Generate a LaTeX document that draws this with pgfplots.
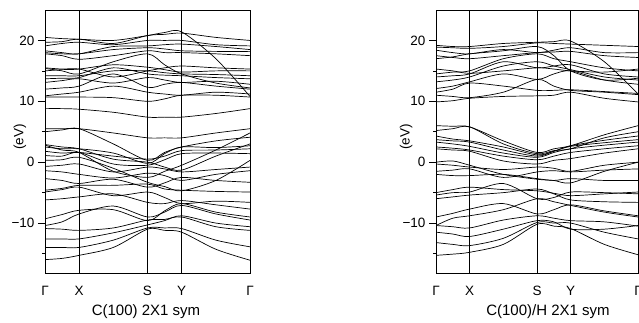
\documentclass[border=0pt]{standalone}
\usepackage{fontspec}
\setmainfont{Liberation Sans}
\usepackage{pgfplots}
\pgfplotsset{compat=1.18}
\newcommand{\band}[9]{\addplot[black, line width=0.7pt, smooth] coordinates {(0,#1)(0.5,#2)(1,#3)(2,#4)(3,#5)(3.5,#6)(4,#7)(5,#8)(6,#9)};}
\pgfplotsset{bandaxis/.style={
  scale only axis, height=263pt,
  xmin=0, xmax=6, ymin=-18.2, ymax=25,
  xtick={0,1,3,4,6}, xticklabels={Γ,X,S,Y,Γ},
  xmajorgrids, major grid style={black, line width=0.8pt},
  xtick style={draw=none},
  ytick={-10,0,10,20}, yticklabels={−10,0,10,20},
  minor ytick={-15,-5,5,15},
  ytick pos=left, tick align=outside,
  major tick length=7pt, minor tick length=3pt,
  every tick/.style={black, line width=0.7pt},
  axis line style={line width=0.8pt},
  ticklabel style={font=\fontsize{13.5}{13.5}\selectfont},
  xticklabel style={yshift=-3pt},
  clip=true,
}}
\begin{document}
\begin{tikzpicture}
\useasboundingbox (0,0) rectangle (639pt,323pt);
% Left panel: C(100) 2X1 sym
\begin{axis}[bandaxis, width=205pt, at={(45pt,50pt)}, anchor=south west]
% valence
\band{-16.0}{-15.8}{-15.3}{-14.0}{-11.0}{-11.2}{-11.5}{-14.3}{-16.1}
\band{-14.0}{-14.0}{-14.0}{-12.8}{-10.8}{-10.8}{-10.9}{-12.8}{-13.9}
\band{-12.6}{-12.6}{-12.6}{-11.6}{-10.3}{-9.6}{-8.8}{-10.0}{-10.6}
\band{-10.9}{-11.0}{-11.2}{-10.8}{-9.5}{-9.4}{-9.0}{-10.6}{-11.2}
\band{-10.4}{-9.8}{-8.5}{-7.2}{-9.0}{-8.2}{-7.1}{-8.5}{-9.5}
\band{-9.3}{-8.6}{-7.9}{-7.8}{-9.6}{-8.0}{-6.8}{-8.2}{-9.0}
\band{-6.2}{-6.0}{-5.7}{-5.2}{-6.6}{-6.8}{-6.3}{-7.0}{-7.7}
\band{-4.9}{-4.5}{-4.1}{-5.5}{-4.9}{-5.8}{-6.8}{-6.4}{-6.6}
\band{-4.6}{-4.3}{-3.8}{-3.8}{-3.6}{-4.4}{-4.6}{-4.8}{-4.9}
\band{-2.7}{-3.0}{-3.5}{-2.8}{-4.1}{-3.4}{-2.5}{-3.0}{-3.3}
\band{-1.4}{-1.6}{-2.0}{-2.6}{-1.8}{-2.2}{-3.0}{-2.0}{-1.4}
\band{-0.7}{-0.5}{-0.3}{-1.6}{-0.8}{-1.1}{-1.6}{-1.2}{-0.8}
\band{0.3}{0.4}{0.8}{-1.0}{-3.3}{-4.0}{-4.7}{-3.0}{0.3}
\band{1.1}{1.0}{1.6}{-0.3}{-0.5}{0.4}{1.4}{1.5}{1.4}
\band{1.8}{1.5}{1.6}{1.0}{0.5}{1.0}{1.9}{2.0}{2.2}
\band{2.5}{2.2}{2.2}{1.5}{-0.2}{1.4}{2.5}{2.4}{2.7}
\band{2.9}{2.5}{2.2}{0.5}{0.0}{-0.8}{-1.3}{1.0}{3.0}
\band{5.0}{5.3}{5.5}{3.0}{0.3}{1.6}{2.5}{3.5}{4.1}
\band{5.5}{5.5}{5.5}{4.8}{4.0}{4.0}{4.0}{4.8}{5.5}
\band{2.8}{2.0}{1.6}{-1.5}{-2.5}{-1.5}{-0.5}{2.0}{4.8}
% conduction
\band{8.8}{8.8}{8.7}{8.2}{7.4}{7.4}{7.4}{8.0}{8.8}
\band{10.7}{10.7}{10.7}{10.6}{10.0}{10.4}{11.0}{11.0}{10.7}
\band{10.9}{11.2}{11.5}{12.5}{11.5}{11.2}{11.0}{11.5}{11.2}
\band{12.0}{12.2}{12.5}{14.5}{12.3}{12.8}{13.1}{12.5}{12.0}
\band{13.1}{13.4}{13.7}{13.0}{13.9}{13.5}{13.1}{13.3}{12.8}
\band{13.7}{13.8}{13.9}{15.5}{14.5}{14.3}{14.2}{13.9}{13.7}
\band{14.2}{14.2}{14.2}{15.0}{15.0}{14.7}{14.5}{14.4}{14.2}
\band{15.0}{15.2}{15.3}{16.0}{15.6}{15.2}{14.8}{15.0}{15.0}
\band{15.4}{15.0}{14.5}{16.5}{17.8}{16.0}{14.5}{13.0}{12.2}
\band{17.8}{17.5}{16.9}{17.5}{18.3}{18.0}{18.0}{17.8}{17.5}
\band{18.0}{17.8}{17.8}{18.5}{18.8}{18.6}{18.3}{18.2}{18.2}
\band{18.3}{18.0}{17.8}{19.0}{19.1}{19.3}{19.4}{19.0}{18.5}
\band{19.1}{19.5}{19.7}{19.3}{20.0}{20.0}{20.0}{19.3}{19.1}
\band{19.7}{19.8}{20.2}{19.5}{20.8}{21.0}{21.2}{20.5}{20.0}
\band{20.5}{20.3}{20.2}{20.0}{20.8}{21.3}{21.4}{17.0}{10.8}
\band{15.5}{15.3}{15.3}{14.0}{15.0}{15.5}{15.8}{15.5}{15.3}
\end{axis}
% Right panel: C(100)/H 2X1 sym
\begin{axis}[bandaxis, width=202pt, at={(436pt,50pt)}, anchor=south west]
% valence
\band{-15.3}{-15.1}{-14.8}{-13.5}{-10.2}{-10.5}{-10.9}{-13.5}{-15.2}
\band{-13.2}{-13.5}{-13.7}{-12.5}{-9.9}{-10.0}{-10.0}{-11.5}{-12.6}
\band{-11.5}{-11.8}{-12.2}{-11.0}{-9.6}{-9.8}{-11.0}{-11.0}{-10.4}
\band{-10.4}{-10.6}{-10.8}{-9.5}{-8.8}{-9.2}{-9.6}{-9.8}{-10.5}
\band{-10.4}{-9.2}{-8.8}{-7.8}{-6.0}{-6.5}{-7.1}{-8.2}{-9.0}
\band{-9.0}{-8.4}{-7.7}{-6.8}{-8.5}{-7.8}{-7.0}{-8.0}{-8.8}
\band{-6.0}{-5.7}{-5.4}{-5.0}{-4.4}{-5.2}{-6.2}{-6.5}{-6.6}
\band{-5.0}{-4.5}{-4.1}{-4.5}{-4.7}{-5.1}{-5.5}{-5.2}{-4.9}
\band{-5.4}{-5.0}{-4.9}{-3.5}{-6.0}{-5.8}{-4.9}{-5.0}{-5.2}
\band{-2.0}{-2.2}{-2.2}{-2.0}{-2.7}{-3.0}{-2.7}{-3.0}{-3.0}
\band{-1.5}{-1.3}{-1.1}{-2.5}{-1.6}{-1.4}{-1.6}{-1.3}{-1.1}
\band{-0.3}{-0.5}{-0.8}{-1.2}{-0.8}{-1.0}{-1.5}{-0.5}{0.0}
\band{0.0}{0.2}{-0.5}{-2.0}{-2.8}{-3.0}{-3.4}{-1.5}{0.0}
\band{2.2}{2.0}{1.8}{0.2}{-0.3}{0.3}{0.6}{1.5}{2.2}
\band{2.5}{2.3}{2.0}{1.0}{0.4}{1.0}{1.6}{2.2}{2.7}
\band{3.3}{3.0}{2.6}{1.5}{0.8}{1.6}{2.2}{2.8}{3.3}
\band{3.7}{3.5}{3.3}{2.0}{1.0}{1.8}{2.6}{3.2}{3.7}
\band{4.3}{3.8}{3.5}{2.5}{1.2}{1.8}{2.7}{3.6}{4.3}
\band{6.0}{5.9}{5.8}{3.5}{1.6}{2.2}{2.7}{4.5}{6.0}
\band{5.2}{5.5}{5.8}{3.0}{1.4}{1.9}{2.2}{4.0}{5.0}
% conduction
\band{9.9}{10.1}{10.5}{10.8}{10.9}{11.0}{11.5}{10.5}{9.9}
\band{11.0}{10.8}{10.6}{11.5}{13.6}{12.5}{11.8}{11.5}{11.1}
\band{11.5}{12.0}{13.0}{12.5}{11.8}{11.8}{11.9}{11.6}{11.3}
\band{12.1}{12.5}{13.2}{14.5}{13.6}{14.5}{15.0}{13.5}{12.8}
\band{13.2}{13.5}{14.0}{15.8}{16.5}{15.8}{15.2}{14.0}{13.5}
\band{14.0}{14.2}{14.5}{16.5}{15.5}{15.8}{16.0}{14.5}{14.0}
\band{14.5}{14.8}{15.0}{17.0}{17.8}{17.0}{16.5}{15.5}{15.0}
\band{15.3}{15.0}{14.6}{15.0}{15.5}{15.3}{15.0}{14.8}{15.3}
\band{17.0}{17.3}{17.8}{18.3}{19.0}{17.5}{15.0}{13.5}{13.8}
\band{17.5}{17.2}{17.0}{17.5}{18.0}{18.1}{18.2}{17.5}{17.2}
\band{18.4}{18.0}{17.8}{18.5}{18.0}{18.4}{18.8}{18.0}{18.0}
\band{18.9}{18.8}{18.7}{19.0}{19.6}{19.5}{19.4}{19.2}{19.0}
\band{19.2}{19.0}{19.0}{19.5}{19.7}{19.8}{19.9}{16.5}{11.2}
\end{axis}
\node[rotate=90, font=\fontsize{13.5}{13.5}\selectfont] at (20pt,186pt) {(eV)};
\node[rotate=90, font=\fontsize{13.5}{13.5}\selectfont] at (406pt,186pt) {(eV)};
\node[font=\fontsize{15}{15}\selectfont] at (146pt,11pt) {C(100) 2X1 sym};
\node[font=\fontsize{15}{15}\selectfont] at (548pt,11pt) {C(100)/H 2X1 sym};
\end{tikzpicture}
\end{document}
